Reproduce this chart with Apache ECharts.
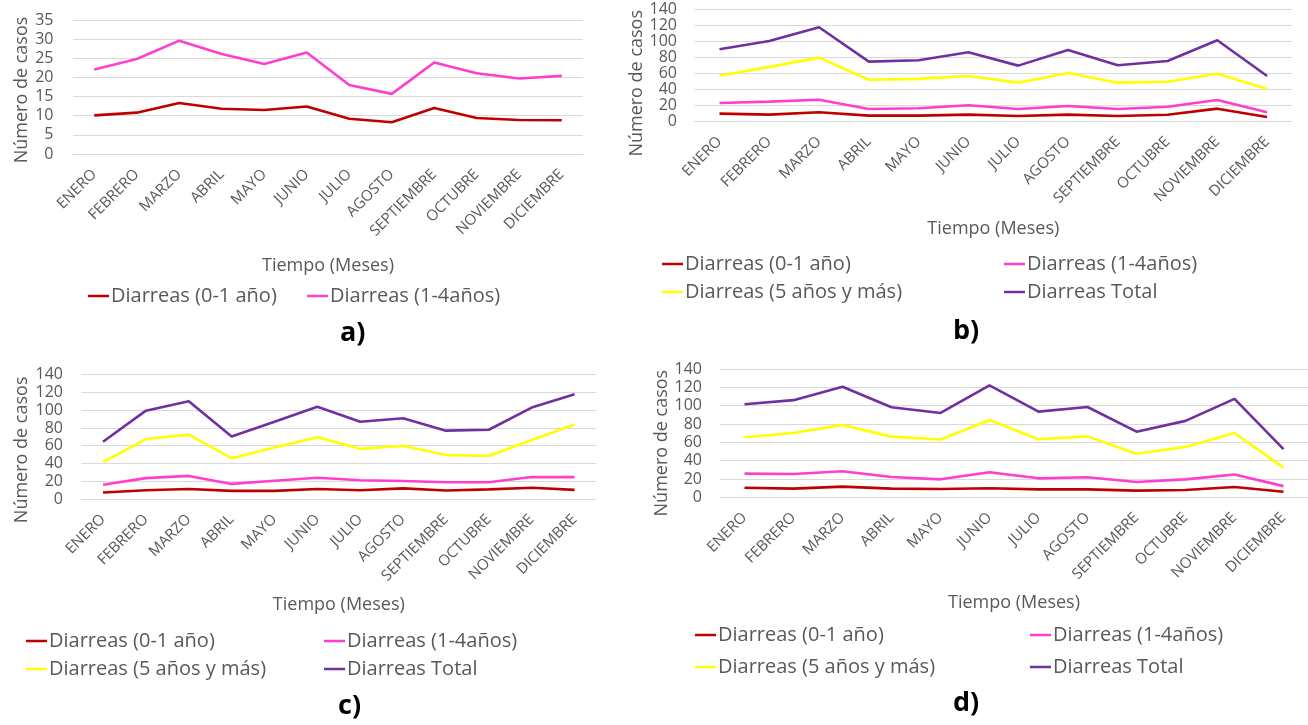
<!DOCTYPE html>
<html lang="es">
<head>
<meta charset="utf-8">
<title>Casos de diarrea por mes</title>
<script src="https://cdn.jsdelivr.net/npm/echarts@6/dist/echarts.min.js"></script>
<style>
  html, body { margin: 0; padding: 0; background: #ffffff; }
  #chart { width: 1308px; height: 725px; }
</style>
</head>
<body>
<div id="chart"></div>
<script>
// Month categories shared by the four panels
const meses = ['ENERO', 'FEBRERO', 'MARZO', 'ABRIL', 'MAYO', 'JUNIO', 'JULIO',
  'AGOSTO', 'SEPTIEMBRE', 'OCTUBRE', 'NOVIEMBRE', 'DICIEMBRE'];

// Series names
const nombres = ['Diarreas (0-1 año)', 'Diarreas (1-4años)', 'Diarreas (5 años y más)', 'Diarreas Total'];

// Panel a)
const a_0a1 = [10.1, 10.8, 13.3, 11.8, 11.5, 12.4, 9.2, 8.3, 12.0, 9.4, 8.9, 8.8];
const a_1a4 = [22.1, 24.8, 29.6, 26.1, 23.5, 26.5, 18.0, 15.7, 23.9, 21.1, 19.7, 20.4];

// Panel b)
const b_0a1 = [9.6, 8.3, 11.3, 7.1, 7.1, 8.3, 6.7, 8.3, 6.7, 8.2, 15.8, 5.4];
const b_1a4 = [22.9, 24.6, 27.0, 15.4, 16.3, 20.0, 15.4, 19.2, 15.4, 18.2, 26.6, 11.2];
const b_5mas = [57.0, 68.0, 79.6, 52.0, 53.0, 56.7, 48.3, 60.4, 48.3, 49.5, 59.4, 40.4];
const b_total = [90.0, 100.4, 117.5, 74.6, 76.3, 86.3, 69.6, 89.2, 70.0, 75.4, 101.3, 56.6];

// Panel c)
const c_0a1 = [7.3, 9.8, 11.3, 9.2, 9.2, 11.3, 9.8, 12.0, 9.5, 10.8, 12.7, 10.3];
const c_1a4 = [16.0, 23.5, 26.0, 17.0, 20.5, 24.0, 21.2, 20.2, 18.8, 18.8, 24.8, 24.6];
const c_5mas = [41.5, 67.5, 72.5, 46.0, 58.0, 69.5, 56.5, 60.0, 49.5, 48.4, 66.5, 84.0];
const c_total = [64.5, 99.5, 110.0, 70.5, 87.0, 104.0, 87.0, 91.0, 77.0, 78.0, 103.0, 118.0];

// Panel d)
const d_0a1 = [10.5, 9.5, 11.6, 9.5, 9.1, 9.8, 8.7, 8.7, 7.3, 8.0, 11.2, 6.1];
const d_1a4 = [25.8, 25.5, 28.4, 22.2, 19.6, 27.3, 20.7, 21.8, 16.7, 19.6, 24.9, 12.2];
const d_5mas = [65.5, 70.2, 79.0, 66.2, 63.0, 84.4, 63.3, 66.5, 47.6, 55.0, 70.2, 32.4];
const d_total = [101.5, 106.0, 120.7, 98.2, 92.0, 122.2, 93.5, 98.5, 71.6, 83.4, 107.4, 52.5];

// Y-axis tick settings
const ejeA = { max: 35, interval: 5 };
const ejeBCD = { max: 140, interval: 20 };

const colores = ['#C00000', '#FF3ECF', '#FFFF00', '#7030A0'];
const fuente = "'Open Sans', 'Noto Sans', sans-serif";
const gris = '#595959';

// Layout of each panel
const paneles = [
  { letra: 'a)', datos: [a_0a1, a_1a4], eje: ejeA,
    grid: { left: 73, top: 20, width: 510, height: 134 },
    yLabelMargin: 19.5, yNameGap: 42.5, yNamePad: 6, xNameGap: 103,
    leyenda: [[88, 298], [307, 298]], titulo: [351, 337] },
  { letra: 'b)', datos: [b_0a1, b_1a4, b_5mas, b_total], eje: ejeBCD,
    grid: { left: 694.6, top: 9.3, width: 597.4, height: 112 },
    yLabelMargin: 17.6, yNameGap: 48.2, yNamePad: 36, xNameGap: 99,
    leyenda: [[662, 266], [1004, 266], [662, 294], [1004, 294]], titulo: [964, 335] },
  { letra: 'c)', datos: [c_0a1, c_1a4, c_5mas, c_total], eje: ejeBCD,
    grid: { left: 81.6, top: 374.7, width: 514.4, height: 124.3 },
    yLabelMargin: 18.6, yNameGap: 50.6, yNamePad: 26, xNameGap: 97,
    leyenda: [[26, 643], [324, 643], [26, 671], [324, 671]], titulo: [349, 710] },
  { letra: 'd)', datos: [d_0a1, d_1a4, d_5mas, d_total], eje: ejeBCD,
    grid: { left: 720, top: 369, width: 590, height: 128.3 },
    yLabelMargin: 18, yNameGap: 46.5, yNamePad: 20, xNameGap: 97,
    leyenda: [[695, 637], [1030, 637], [695, 669], [1030, 669]], titulo: [964, 707] }
];

const grids = [], xAxes = [], yAxes = [], series = [], legends = [], titles = [];

paneles.forEach((p, i) => {
  grids.push(Object.assign({ containLabel: false }, p.grid));

  xAxes.push({
    type: 'category', gridIndex: i, data: meses, boundaryGap: true,
    axisLine: { show: true, lineStyle: { color: '#D9D9D9', width: 1 } },
    axisTick: { show: false },
    axisLabel: { rotate: 45, margin: 18, interval: 0, fontSize: 15, color: gris, fontFamily: fuente },
    name: 'Tiempo (Meses)', nameLocation: 'middle', nameGap: p.xNameGap,
    nameTextStyle: { fontSize: 18, color: gris, fontFamily: fuente }
  });

  yAxes.push({
    type: 'value', gridIndex: i, min: 0, max: p.eje.max, interval: p.eje.interval,
    axisLine: { show: false }, axisTick: { show: false },
    splitLine: { lineStyle: { color: '#D9D9D9', width: 1 } },
    axisLabel: { margin: p.yLabelMargin, fontSize: 16, color: gris, fontFamily: fuente,
      showMinLabel: true, showMaxLabel: true, hideOverlap: false },
    name: 'Número de casos', nameLocation: 'middle', nameGap: p.yNameGap,
    nameTextStyle: { fontSize: 18, color: gris, fontFamily: fuente, padding: [0, p.yNamePad, 0, 0] }
  });

  p.datos.forEach((valores, k) => {
    series.push({
      name: nombres[k], type: 'line', xAxisIndex: i, yAxisIndex: i,
      data: valores, showSymbol: false, symbol: 'none', animation: false,
      lineStyle: { color: colores[k], width: 2.6 },
      itemStyle: { color: colores[k] }
    });
  });

  p.leyenda.forEach((pos, k) => {
    legends.push({
      data: [nombres[k]], left: pos[0], top: pos[1] - 12, padding: 0,
      icon: 'rect', itemWidth: 21, itemHeight: 2.5, selectedMode: false,
      textStyle: { fontSize: 20, color: gris, fontFamily: fuente, padding: [0, 0, 0, -3] }
    });
  });

  titles.push({
    text: p.letra, left: p.titulo[0] - 11, top: p.titulo[1] - 17, padding: 0,
    textStyle: { fontSize: 27, fontWeight: 'bold', color: '#000000', fontFamily: fuente }
  });
});

const chart = echarts.init(document.getElementById('chart'), null, { renderer: 'canvas' });
chart.setOption({
  backgroundColor: '#ffffff',
  animation: false,
  title: titles,
  legend: legends,
  grid: grids,
  xAxis: xAxes,
  yAxis: yAxes,
  series: series
});
</script>
</body>
</html>
